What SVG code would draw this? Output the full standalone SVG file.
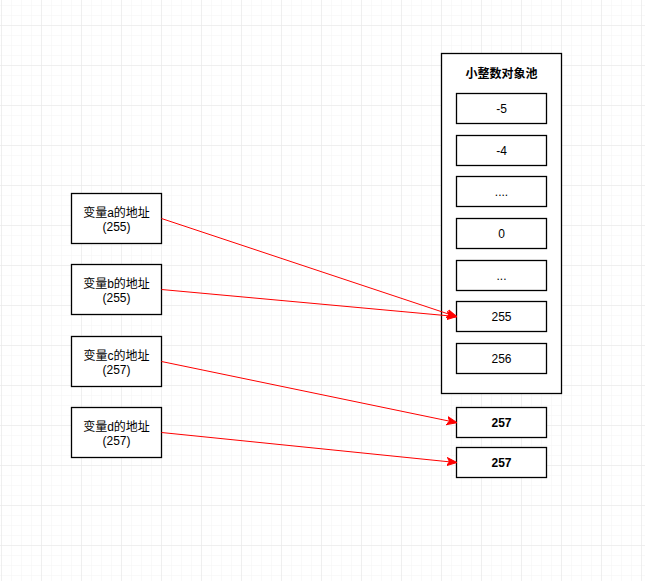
<svg xmlns="http://www.w3.org/2000/svg" width="645" height="581" viewBox="0 0 645 581">
<defs>
<pattern id="minor" x="1" y="5" width="10" height="10" patternUnits="userSpaceOnUse">
<path d="M0 0H10M0 0V10" fill="none" stroke="#f4f4f4" stroke-width="1"/>
</pattern>
<pattern id="major" x="1" y="25" width="40" height="40" patternUnits="userSpaceOnUse">
<path d="M0 0H40M0 0V40" fill="none" stroke="#e6e6e6" stroke-width="1"/>
</pattern>
<marker id="arr" viewBox="0 0 10 10" refX="9" refY="5" markerWidth="10" markerHeight="10" markerUnits="userSpaceOnUse" orient="auto">
<path d="M0 1 L10 5 L0 9 L2.5 5 Z" fill="#ff0000" stroke="#ff0000" stroke-width="1"/>
</marker>
</defs>
<style>
.box{fill:#fff;stroke:#000;stroke-width:1.3}
.t{font-family:"Liberation Sans","Noto Sans CJK SC",sans-serif;font-size:12px;fill:#000;text-anchor:middle}
.b{font-weight:bold}
.c{fill:none;stroke:#ff0000;stroke-width:1}
</style>
<rect width="645" height="581" fill="#fff"/>
<rect width="645" height="581" fill="url(#minor)"/>
<rect width="645" height="581" fill="url(#major)"/>

<g id="var-a"><rect class="box" x="71.5" y="193.5" width="90" height="50"/><text class="t" x="116.5" y="217">变量a的地址</text><text class="t" x="116.5" y="231">(255)</text></g>
<g id="var-b"><rect class="box" x="71.5" y="264.5" width="90" height="50"/><text class="t" x="116.5" y="288">变量b的地址</text><text class="t" x="116.5" y="302">(255)</text></g>
<g id="var-c"><rect class="box" x="71.5" y="336.5" width="90" height="50"/><text class="t" x="116.5" y="360">变量c的地址</text><text class="t" x="116.5" y="374">(257)</text></g>
<g id="var-d"><rect class="box" x="71.5" y="407.5" width="90" height="50"/><text class="t" x="116.5" y="431">变量d的地址</text><text class="t" x="116.5" y="445">(257)</text></g>

<g id="pool"><rect class="box" x="441.5" y="53.5" width="120" height="340"/><text class="t b" x="501.5" y="78">小整数对象池</text></g>
<g id="n-5"><rect class="box" x="456.5" y="93.5" width="90" height="30"/><text class="t" x="501.5" y="112.5">-5</text></g>
<g id="n-4"><rect class="box" x="456.5" y="135.5" width="90" height="30"/><text class="t" x="501.5" y="154.5">-4</text></g>
<g id="n-dots1"><rect class="box" x="456.5" y="176.5" width="90" height="30"/><text class="t" x="501.5" y="195.5">....</text></g>
<g id="n-0"><rect class="box" x="456.5" y="218.5" width="90" height="30"/><text class="t" x="501.5" y="237.5">0</text></g>
<g id="n-dots2"><rect class="box" x="456.5" y="260.5" width="90" height="30"/><text class="t" x="501.5" y="279.5">...</text></g>
<g id="n-255"><rect class="box" x="456.5" y="301.5" width="90" height="30"/><text class="t" x="501.5" y="320.5">255</text></g>
<g id="n-256"><rect class="box" x="456.5" y="343.5" width="90" height="30"/><text class="t" x="501.5" y="362.5">256</text></g>
<g id="n-257a"><rect class="box" x="456.5" y="407.5" width="90" height="30"/><text class="t b" x="501.5" y="426.5">257</text></g>
<g id="n-257b"><rect class="box" x="456.5" y="447.5" width="90" height="30"/><text class="t b" x="501.5" y="466.5">257</text></g>

<g id="connectors">
<line class="c" x1="161.5" y1="218.5" x2="456" y2="316.5" marker-end="url(#arr)"/>
<line class="c" x1="161.5" y1="289.5" x2="456" y2="316.5" marker-end="url(#arr)"/>
<line class="c" x1="161.5" y1="361.5" x2="456" y2="422.5" marker-end="url(#arr)"/>
<line class="c" x1="161.5" y1="432.5" x2="456" y2="462.5" marker-end="url(#arr)"/>
</g>
</svg>
